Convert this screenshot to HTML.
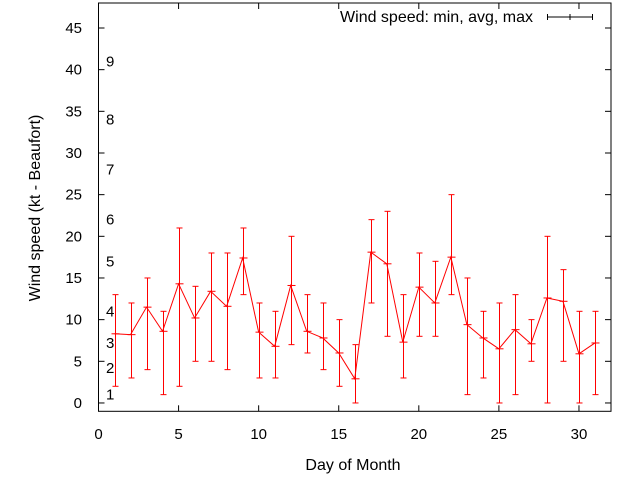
<!DOCTYPE html>
<html><head><meta charset="utf-8"><style>
body{margin:0;background:#fff}
svg{display:block;font-family:"Liberation Sans",sans-serif;font-size:15px}
.big{font-size:16px}
</style></head><body>
<svg id="c" width="640" height="480" viewBox="0 0 640 480" xmlns="http://www.w3.org/2000/svg">
<g id="axes"></g><g id="marks"></g>
<text class="big" x="353" y="470" text-anchor="middle">Day of Month</text>
<text class="big" transform="translate(40,208) rotate(-90)" text-anchor="middle">Wind speed (kt - Beaufort)</text>
<g>
<text class="big" x="533" y="22" text-anchor="end">Wind speed: min, avg, max</text>
<line x1="547" y1="17" x2="593" y2="17" stroke="#000"/><line x1="547.5" y1="14" x2="547.5" y2="20" stroke="#000"/><line x1="592.5" y1="14" x2="592.5" y2="20" stroke="#000"/><line x1="570" y1="14" x2="570" y2="20" stroke="#000"/>
</g>
</svg>
<script>
const days=[1,2,3,4,5,6,7,8,9,10,11,12,13,14,15,16,17,18,19,20,21,22,23,24,25,26,27,28,29,30,31];
const avgs=[8.3,8.2,11.5,8.6,14.3,10.2,13.4,11.6,17.4,8.5,6.8,14.1,8.6,7.8,6,2.9,18.1,16.7,7.3,13.9,12,17.5,9.4,7.8,6.5,8.8,7.1,12.6,12.2,5.9,7.2];
const mins=[2,3,4,1,2,5,5,4,13,3,3,7,6,4,2,0,12,8,3,8,8,13,1,3,0,1,5,0,5,0,1];
const maxs=[13,12,15,11,21,14,18,18,21,12,11,20,13,12,10,7,22,23,13,18,17,25,15,11,12,13,10,20,16,11,11];
const xTicks=[0,5,10,15,20,25,30];
const yTicks=[0,5,10,15,20,25,30,35,40,45];
const bftLabels=["1","2","3","4","5","6","7","8","9"];
const bftKt=[1,4.2,7.2,11,17,22,28,34,41];
const X0=98.5,XR=611,XMAX=32,YMIN=-1,YMAX=48,YT=3,YB=411.3;
const x=v=>X0+v*(XR-X0)/XMAX;
const y=v=>YB-(v-YMIN)*(YB-YT)/(YMAX-YMIN);
const NS="http://www.w3.org/2000/svg";
const ax=document.getElementById('axes'),mk=document.getElementById('marks');
function mkEl(t,a,p,txt){const e=document.createElementNS(NS,t);for(const k in a)e.setAttribute(k,a[k]);if(txt!==undefined)e.textContent=txt;p.appendChild(e);return e;}
const fr=mkEl('rect',{x:X0,y:YT,width:XR-X0,height:YB-YT,fill:'none',stroke:'#000'},ax);


xTicks.forEach(v=>{
 mkEl('line',{x1:x(v),y1:YB,x2:x(v),y2:YB-6,stroke:'#000'},ax);
 mkEl('line',{x1:x(v),y1:YT,x2:x(v),y2:YT+6,stroke:'#000'},ax);
 const t=mkEl('text',{x:x(v),y:439,'text-anchor':'middle'},ax,String(v));
 
 
});
yTicks.forEach(v=>{
 mkEl('line',{x1:X0,y1:y(v),x2:X0+6,y2:y(v),stroke:'#000'},ax);
 mkEl('line',{x1:XR,y1:y(v),x2:XR-6,y2:y(v),stroke:'#000'},ax);
 const t=mkEl('text',{x:82,y:y(v)+5,'text-anchor':'end'},ax,String(v));
 
 
});
bftLabels.forEach((l,i)=>{
 const t=mkEl('text',{x:106,y:y(bftKt[i])+5},ax,l);
 
 
});
days.forEach((d,i)=>{
 const g=mkEl('g',{stroke:'#f00','stroke-width':1},mk);
 
 
 const cx=Math.round(x(d))+0.5;
 mkEl('line',{x1:cx,y1:y(mins[i]),x2:cx,y2:y(maxs[i])},g);
 mkEl('line',{x1:cx-3,y1:y(mins[i]),x2:cx+3,y2:y(mins[i])},g);
 mkEl('line',{x1:cx-3,y1:y(maxs[i]),x2:cx+3,y2:y(maxs[i])},g);
 mkEl('line',{x1:cx-4,y1:y(avgs[i]),x2:cx+4,y2:y(avgs[i])},g);
});
const pl=mkEl('polyline',{points:days.map((d,i)=>x(d)+','+y(avgs[i])).join(' '),fill:'none',stroke:'#f00','stroke-width':1},mk);


</script>
</body></html>
